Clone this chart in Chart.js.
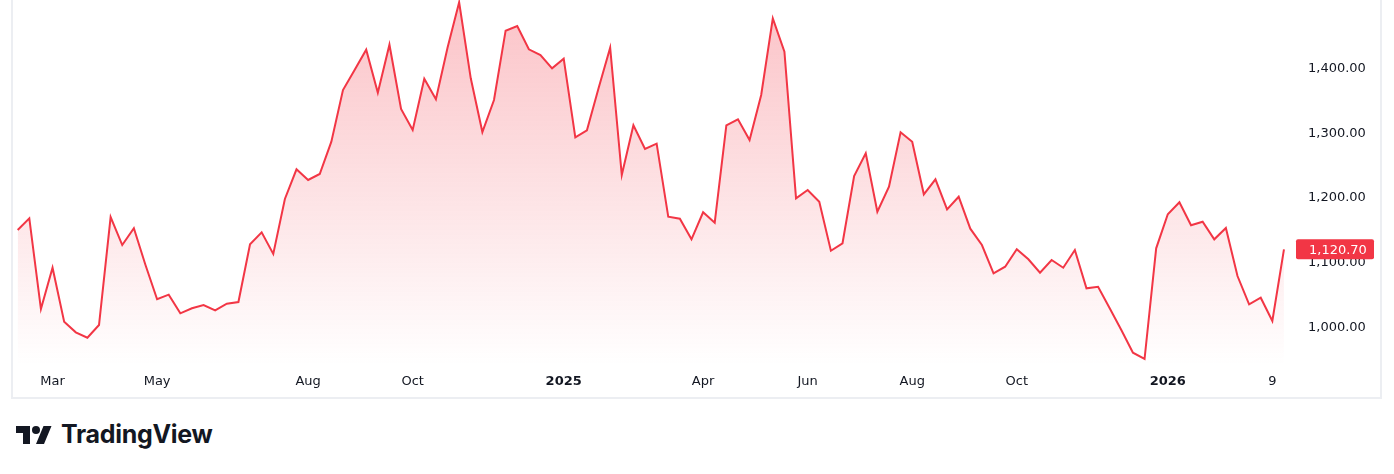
<!DOCTYPE html>
<html>
<head>
<meta charset="utf-8">
<script src="https://cdn.jsdelivr.net/npm/chart.js@4/dist/chart.umd.min.js"></script>
<style>
  body { margin: 0; background: #ffffff; width: 1394px; height: 474px; overflow: hidden; position: relative; }
  #chart-box { position: absolute; left: 0; top: 0; width: 1394px; height: 400px; }
  #tv-logo { position: absolute; left: 16px; top: 422px; }
  #tv-text { position: absolute; left: 61px; top: 418px; font-family: Inter, "DejaVu Sans", sans-serif; font-weight: 700; font-size: 25px; line-height: 32px; color: #131722; letter-spacing: -0.3px; }
</style>
</head>
<body>
<div id="chart-box"><canvas id="price-chart"></canvas></div>
<svg id="tv-logo" width="36" height="28" viewBox="0 0 36 28"><path fill="#131722" d="M14 22H7V11H0V4h14v18zM28 22h-8l7.5-18h8L28 22z"/><circle fill="#131722" cx="20" cy="8" r="4"/></svg>
<div id="tv-text">TradingView</div>
<script>
// weekly closes
const closes = [
  1150.6, 1168.6, 1028.7, 1092.4, 1009.1, 992.8, 984.5, 1004.0, 1170.6, 1127.4,
  1153.2, 1096.6, 1043.7, 1050.8, 1022.1, 1029.8, 1034.9, 1026.7, 1036.9, 1039.5,
  1128.5, 1147.0, 1113.6, 1198.4, 1244.2, 1227.7, 1237.0, 1286.8, 1366.5, 1397.4,
  1428.7, 1362.4, 1436.4, 1337.2, 1304.8, 1384.0, 1352.2, 1431.8, 1501.8, 1384.6,
  1301.7, 1351.1, 1458.0, 1465.2, 1429.3, 1420.5, 1400.0, 1414.8, 1293.6, 1304.4,
  1369.1, 1431.8, 1235.4, 1312.1, 1275.5, 1283.7, 1171.1, 1168.0, 1136.2, 1177.9,
  1161.8, 1312.1, 1321.3, 1289.4, 1358.8, 1477.1, 1425.6, 1199.5, 1212.3, 1194.2,
  1118.6, 1130.1, 1233.9, 1268.9, 1178.8, 1217.4, 1301.3, 1286.8, 1205.6, 1228.8,
  1182.5, 1201.9, 1152.6, 1127.4, 1083.8, 1094.0, 1120.8, 1105.4, 1084.7, 1104.3,
  1092.4, 1119.7, 1060.6, 1063.1, 1029.8, 996.3, 961.3, 951.6, 1122.3, 1174.8,
  1193.3, 1157.8, 1163.4, 1136.2, 1153.7, 1079.6, 1036.0, 1046.1, 1010.2, 1120.7
];

// time axis labels: week index -> text
const timeTickIdx = [3, 12, 25, 34, 47, 59, 68, 77, 86, 99, 108];
const timeTickText = ['Mar', 'May', 'Aug', 'Oct', '2025', 'Apr', 'Jun', 'Aug', 'Oct', '2026', '9'];
const yearTicks = ['2025', '2026'];

const priceTicks = [1000, 1100, 1200, 1300, 1400];
const lastPrice = closes[closes.length - 1];

const red = '#f23645';
const fmt = v => v.toLocaleString('en-US', { minimumFractionDigits: 2, maximumFractionDigits: 2 });

let points = closes.map((v, i) => ({ x: i, y: v }));

const frameAndLabel = {
    id: 'frameAndLabel',
    afterDraw(chart) {
        const ctx = chart.ctx;
        const y = chart.scales.y.getPixelForValue(lastPrice);
        ctx.save();
        // frame
        ctx.strokeStyle = '#eceef2';
        ctx.lineWidth = 2;
        ctx.beginPath();
        ctx.moveTo(12, 0);
        ctx.lineTo(12, 398);
        ctx.lineTo(1381, 398);
        ctx.lineTo(1381, 0);
        ctx.stroke();
        // last price tag
        ctx.fillStyle = red;
        ctx.beginPath();
        ctx.roundRect(1296, y - 10, 78, 20, 2);
        ctx.fill();
        ctx.fillStyle = '#ffffff';
        ctx.font = '13px "DejaVu Sans"';
        ctx.textBaseline = 'middle';
        ctx.textAlign = 'left';
        ctx.fillText(fmt(lastPrice), 1309, y + 1);
        ctx.restore();
    }
};

function noPad(s) {
    s.paddingTop = 0;
    s.paddingBottom = 0;
    s.paddingLeft = 0;
    s.paddingRight = 0;
}

let chart_ctx = document.getElementById('price-chart').getContext('2d');

let priceChart = new Chart(chart_ctx, {
    type: 'line',
    data: {
        datasets: [{
            data: points,
            borderColor: red,
            borderWidth: 2,
            pointRadius: 0,
            tension: 0,
            fill: 'start',
            backgroundColor: (c) => {
                const area = c.chart.chartArea;
                if (!area) return 'rgba(242,54,69,0.2)';
                const g = c.chart.ctx.createLinearGradient(0, area.top, 0, area.bottom);
                g.addColorStop(0, 'rgba(242,54,69,0.30)');
                g.addColorStop(1, 'rgba(242,54,69,0.0)');
                return g;
            }
        }]
    },
    options: {
        responsive: true,
        maintainAspectRatio: false,
        animation: false,
        layout: { padding: { left: 12, right: 13, top: 0, bottom: 2 } },
        plugins: { legend: { display: false }, tooltip: { enabled: false } },
        scales: {
            x: {
                type: 'linear',
                min: -0.49,
                max: 109.95,
                border: { display: false },
                grid: { display: false, drawTicks: false },
                afterBuildTicks: (s) => { s.ticks = timeTickIdx.map(v => ({ value: v })); },
                afterFit: (s) => { s.height = 33; noPad(s); },
                ticks: {
                    autoSkip: false,
                    maxRotation: 0,
                    padding: 9,
                    color: '#131722',
                    font: (c) => ({
                        family: 'DejaVu Sans',
                        size: 13,
                        weight: yearTicks.includes(timeTickText[timeTickIdx.indexOf(c.tick && c.tick.value)]) ? 'bold' : 'normal'
                    }),
                    callback: (v) => timeTickText[timeTickIdx.indexOf(v)]
                }
            },
            y: {
                position: 'right',
                min: 942.35,
                max: 1505.35,
                border: { display: false },
                grid: { display: false, drawTicks: false },
                afterBuildTicks: (s) => { s.ticks = priceTicks.map(v => ({ value: v })); },
                afterFit: (s) => { s.width = 86; noPad(s); },
                ticks: {
                    padding: 13,
                    color: '#131722',
                    font: { family: 'DejaVu Sans', size: 13 },
                    callback: (v) => fmt(v)
                }
            }
        }
    },
    plugins: [frameAndLabel]
});
</script>
</body>
</html>
